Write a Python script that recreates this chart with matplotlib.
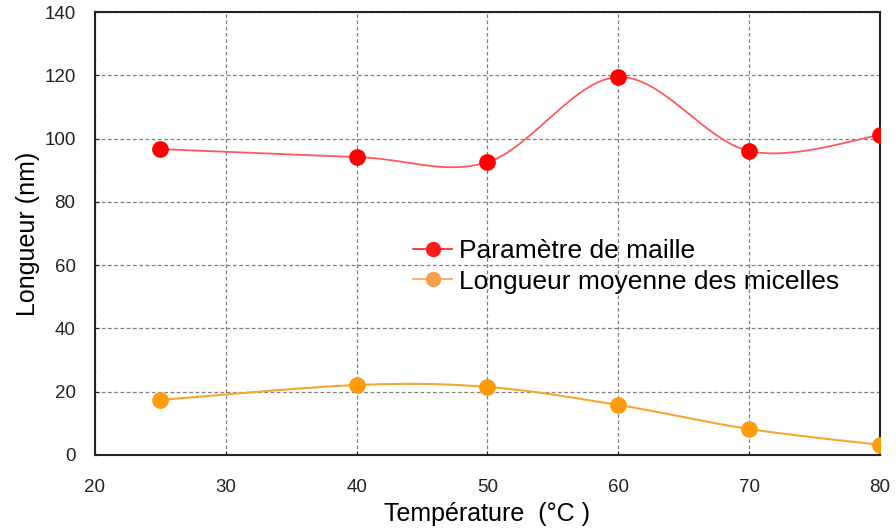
import numpy as np
import matplotlib
matplotlib.use("Agg")
import matplotlib.pyplot as plt

plt.rcParams['font.family'] = ['Liberation Sans', 'DejaVu Sans']

temperature = [25, 40, 50, 60, 70, 80]
maille = [96.7, 94.2, 92.6, 119.5, 96.1, 101.1]
micelles = [17.4, 22.1, 21.5, 15.8, 8.2, 3.2]


def smooth(x, y, n=40):
    # Excel-like smoothed line: cubic bezier with catmull-rom control points
    x = np.asarray(x, float)
    y = np.asarray(y, float)
    px = np.concatenate([[x[0]], x, [x[-1]]])
    py = np.concatenate([[y[0]], y, [y[-1]]])
    xs, ys = [], []
    t = np.linspace(0, 1, n)
    for i in range(1, len(px) - 2):
        p0 = np.array([px[i], py[i]])
        p3 = np.array([px[i + 1], py[i + 1]])
        p1 = p0 + (np.array([px[i + 1], py[i + 1]]) - np.array([px[i - 1], py[i - 1]])) / 6
        p2 = p3 - (np.array([px[i + 2], py[i + 2]]) - np.array([px[i], py[i]])) / 6
        b = ((1 - t) ** 3)[:, None] * p0 + (3 * (1 - t) ** 2 * t)[:, None] * p1 \
            + (3 * (1 - t) * t ** 2)[:, None] * p2 + (t ** 3)[:, None] * p3
        xs.extend(b[:, 0])
        ys.extend(b[:, 1])
    return np.array(xs), np.array(ys)


fig = plt.figure(figsize=(8.96, 5.29), dpi=100)
ax = fig.add_axes([0.106, 0.140, 0.876, 0.837])

sx, sy = smooth(temperature, maille)
ax.plot(sx, sy, color='#ff5a5a', lw=1.3, zorder=3)
ax.plot(temperature, maille, 'o', color='#ff0000', ms=11, zorder=4)
sx, sy = smooth(temperature, micelles)
ax.plot(sx, sy, color='#f7a531', lw=1.5, zorder=3)
ax.plot(temperature, micelles, 'o', color='#ff9c0a', ms=11, zorder=4)

# legend handles
ax.plot([], [], '-o', color='#ff1a1a', ms=10, lw=1.2, label='Paramètre de maille')
ax.plot([], [], '-o', color='#f5a04d', ms=10, lw=1.2, label='Longueur moyenne des micelles')
ax.legend(loc='upper left', bbox_to_anchor=(0.449, 0.568), bbox_transform=fig.transFigure,
          frameon=False, fontsize=19, handlelength=1.5, handletextpad=0.25,
          labelspacing=0.25, borderaxespad=0)

ax.set_xlim(20, 80)
ax.set_ylim(0, 140)
ax.set_xticks(np.arange(20, 81, 10))
ax.set_yticks(np.arange(0, 141, 20))
ax.grid(True, linestyle=(0, (3, 2)), color='#808080', lw=0.9)
ax.tick_params(labelsize=13.5, length=3, direction='in', colors='#222222')
ax.tick_params(axis='y', pad=14)
ax.tick_params(axis='x', pad=17)
for s in ax.spines.values():
    s.set_linewidth(1.5)
    s.set_color('#222222')
ax.set_xlabel('Température  (°C )', fontsize=18, labelpad=5)
ax.set_ylabel('Longueur (nm)', fontsize=18, labelpad=3)

fig.savefig('out.png', dpi=100)
